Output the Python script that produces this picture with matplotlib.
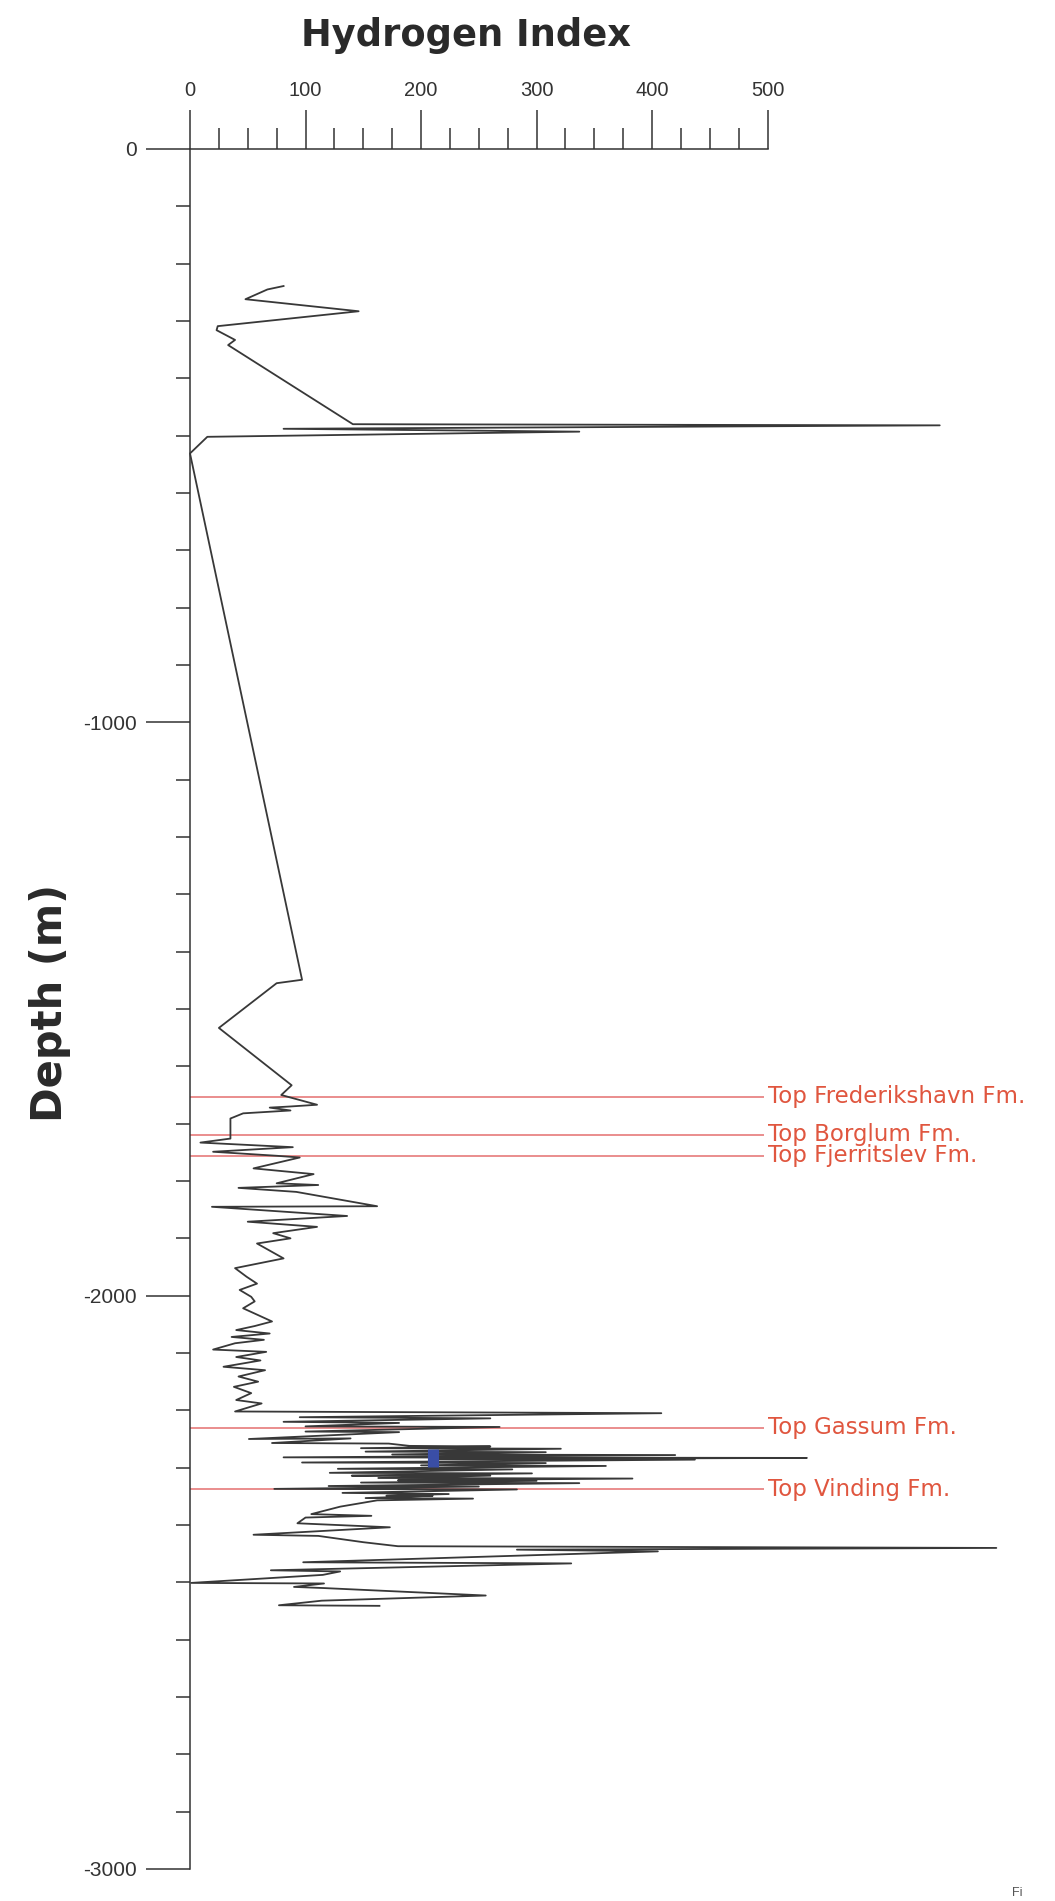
import matplotlib
matplotlib.use('Agg')
import matplotlib.pyplot as plt
from matplotlib.ticker import MultipleLocator, FixedLocator, FixedFormatter

# Hydrogen Index log (HI) versus depth (m, positive downwards)
hi = [81, 67, 48, 146, 24, 23, 39, 33, 141, 649, 81, 337, 15, 0,
      97, 75, 25, 88, 79, 110, 87, 69, 87, 46, 35, 35, 9, 89, 20, 75, 95, 55,
      107, 75, 111, 42, 92, 162, 19, 136, 50, 110, 72, 87, 58,
      81, 39, 49, 58, 43, 53, 56, 46, 71, 56, 40, 69, 36, 64, 39, 20, 66, 40,
      61, 29, 65, 42, 59, 38, 53, 40, 62, 39,
      408, 95, 260, 81, 181, 100, 268, 100, 181, 51, 139, 71, 172,
      190, 260, 148, 321, 152, 308, 175, 420,
      81, 534, 210, 437, 97, 308, 200, 360, 128, 279, 121, 296,
      140, 260, 163, 383, 180, 300, 148, 337, 120, 250,
      73, 283, 132, 224, 170, 210, 152, 245, 162, 130, 105, 157, 100, 93, 173,
      55, 111,
      150, 180, 698, 283, 405, 98, 330, 70, 130, 115, 1, 116, 90, 116, 256,
      114, 77, 164]
depth = [239, 245, 262, 283, 309, 316, 333, 342, 480, 482, 488, 493, 502, 531,
         1449, 1455, 1533, 1633, 1650, 1667, 1670, 1672, 1677, 1682, 1691, 1726,
         1733, 1741, 1749, 1756, 1759, 1778,
         1788, 1804, 1807, 1812, 1819, 1844, 1845, 1861, 1871, 1880, 1891, 1900, 1909,
         1935, 1952, 1967, 1979, 1990, 2002, 2010, 2022, 2045, 2053, 2060, 2066,
         2072, 2077, 2083, 2094, 2098, 2107,
         2113, 2124, 2130, 2141, 2150, 2159, 2170, 2182, 2188, 2202,
         2205, 2212, 2214, 2220, 2222, 2228, 2229, 2237, 2238, 2250, 2249, 2257, 2258,
         2262, 2263, 2266, 2267, 2272, 2273, 2277, 2278,
         2282, 2283, 2285, 2286, 2291, 2292, 2296, 2297, 2302, 2303, 2309, 2310,
         2314, 2314, 2318, 2319, 2322, 2323, 2326, 2327, 2332, 2333,
         2337, 2338, 2344, 2346, 2349, 2349, 2353, 2354, 2357, 2368, 2381, 2384,
         2387, 2397, 2404,
         2417, 2419,
         2430, 2437, 2440, 2443, 2446, 2465, 2467, 2479, 2481, 2487, 2501, 2502,
         2508, 2510, 2523,
         2532, 2540, 2541]

blue_hi = [210, 210]
blue_depth = [2268, 2298]

formations = ['Top Frederikshavn Fm.', 'Top Borglum Fm.', 'Top Fjerritslev Fm.',
              'Top Gassum Fm.', 'Top Vinding Fm.']
formation_depth = [1653, 1719, 1756, 2230, 2338]

x_ticks = [0, 100, 200, 300, 400, 500]
x_labels = ['0', '100', '200', '300', '400', '500']
y_ticks = [0, 1000, 2000, 3000]
y_labels = ['0', '-1000', '-2000', '-3000']

W, H = 1055, 1901
fig = plt.figure(figsize=(W / 100, H / 100), dpi=100)
fig.patch.set_facecolor('white')
ax = fig.add_axes([190 / W, 1 - 1869 / H, 577.6 / W, 1720 / H])
ax.set_facecolor('none')
ax.set_xlim(0, 500)
ax.set_ylim(3000, 0)

# formation tops
ax.hlines(formation_depth, 0, 497, colors='#e88585', linewidth=1.3, clip_on=False, zorder=1)
for name, d in zip(formations, formation_depth):
    ax.text(500, d, name, ha='left', va='center', fontsize=16.5,
            family='DejaVu Sans', color='#e0563f', clip_on=False)

# HI log
ax.plot(hi, depth, color='#383838', linewidth=1.3, clip_on=False, zorder=3)
ax.plot(blue_hi, blue_depth, color='#3a4ea6', linewidth=8, solid_capstyle='butt',
        clip_on=False, zorder=4)

# spines
for s in ['right', 'bottom']:
    ax.spines[s].set_visible(False)
for s in ['top', 'left']:
    ax.spines[s].set_color('#333333')
    ax.spines[s].set_linewidth(1.1)

ax.xaxis.tick_top()
ax.xaxis.set_major_locator(FixedLocator(x_ticks))
ax.xaxis.set_major_formatter(FixedFormatter(x_labels))
ax.xaxis.set_minor_locator(MultipleLocator(25))
ax.yaxis.set_major_locator(FixedLocator(y_ticks))
ax.yaxis.set_major_formatter(FixedFormatter(y_labels))
ax.yaxis.set_minor_locator(MultipleLocator(100))

ax.tick_params(axis='x', which='major', direction='out', length=28, width=1.1,
               pad=7, labelsize=14.5, colors='#333333', top=True, bottom=False,
               labeltop=True, labelbottom=False)
ax.tick_params(axis='x', which='minor', direction='out', length=15, width=1.1,
               colors='#333333', top=True, bottom=False)
ax.tick_params(axis='y', which='major', direction='out', length=32, width=1.1,
               pad=6, labelsize=15, colors='#333333', left=True, right=False)
ax.tick_params(axis='y', which='minor', direction='out', length=10, width=1.1,
               colors='#333333', left=True, right=False)
for lab in ax.get_xticklabels() + ax.get_yticklabels():
    lab.set_family('Liberation Sans')

fig.text(466 / W, 1 - 35 / H, 'Hydrogen Index', ha='center', va='center',
         fontsize=26.5, fontweight='bold', family='DejaVu Sans', color='#2a2a2a')
fig.text(50 / W, 1 - 1003 / H, 'Depth (m)', ha='center', va='center', rotation=90,
         fontsize=30, fontweight='bold', family='DejaVu Sans', color='#2a2a2a')
fig.text(1012 / W, 2 / H, 'Fi', ha='left', va='bottom', fontsize=9,
         family='Liberation Sans', color='#555555')

fig.savefig('out.png', dpi=100)
